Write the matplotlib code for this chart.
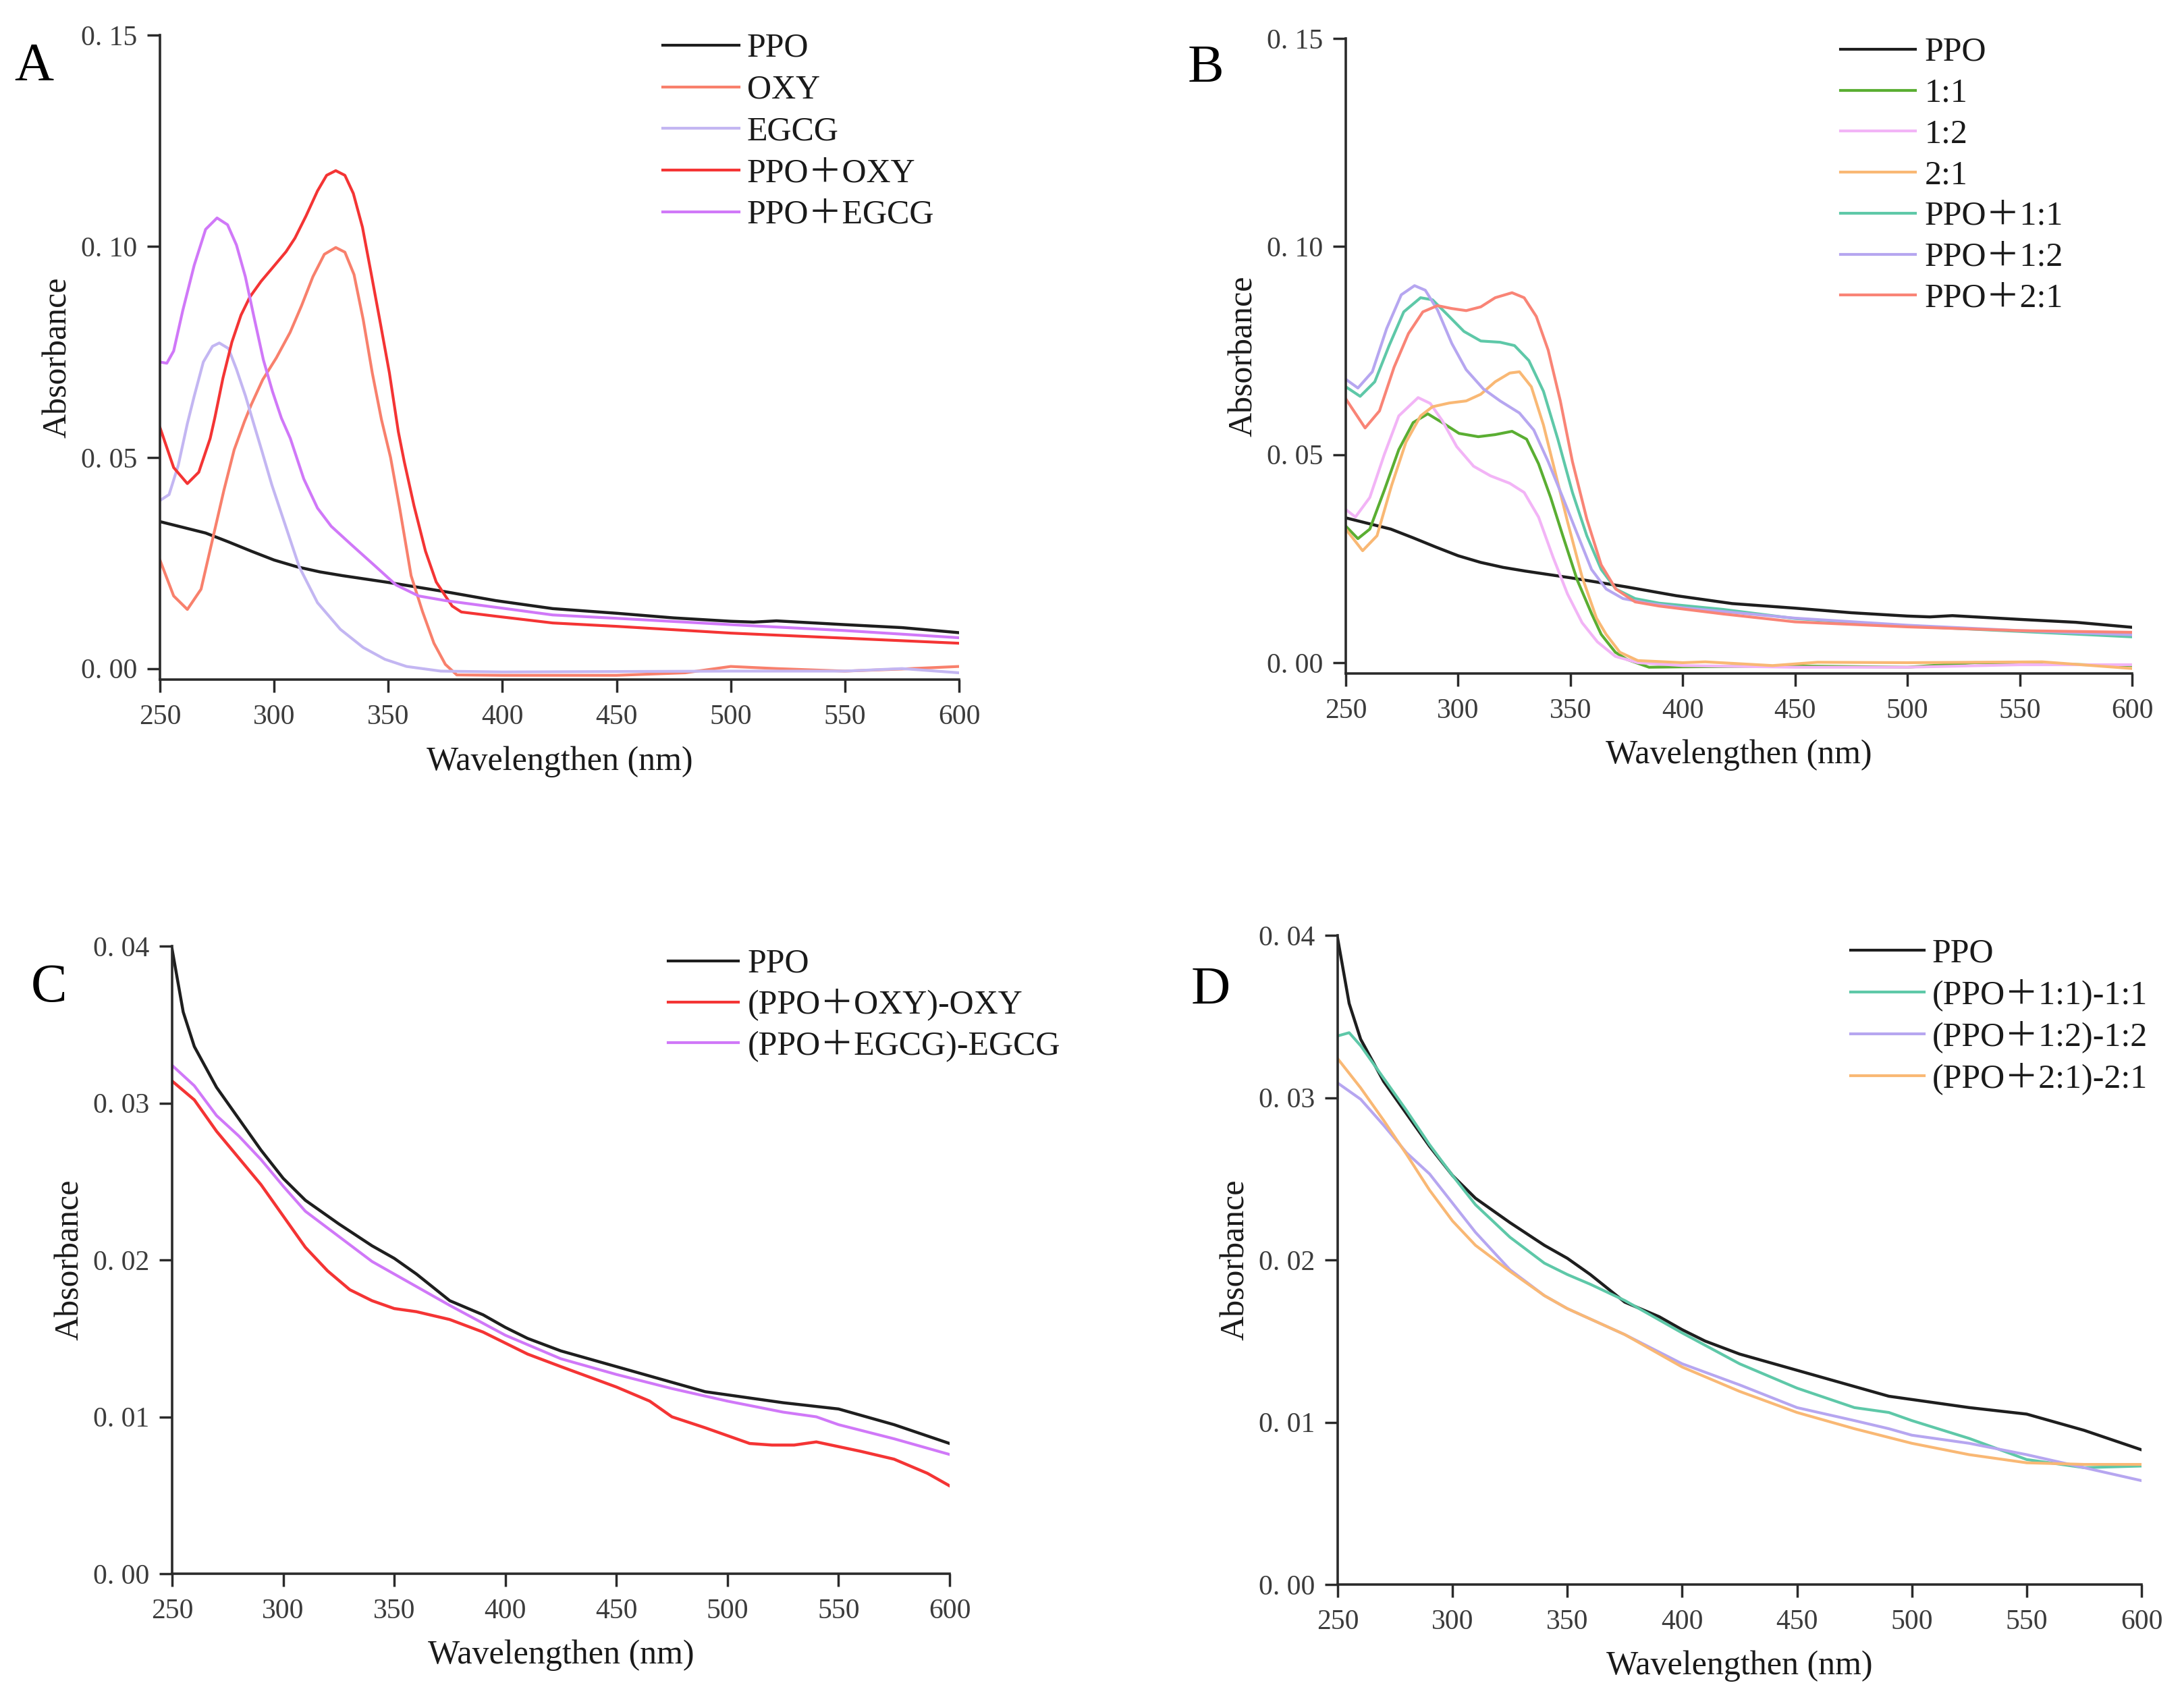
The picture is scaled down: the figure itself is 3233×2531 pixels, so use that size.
import numpy as np
import matplotlib
matplotlib.use("Agg")
import matplotlib.pyplot as plt
from matplotlib.lines import Line2D

plt.rcParams['font.family'] = ['Liberation Serif', 'Noto Sans CJK SC']

# ---------------- data ----------------
# PPO on the wide scale (panels A, B)
ppo_wl = [250, 270, 280, 290, 300, 310, 320, 330, 350, 375, 397, 422, 450, 475, 500, 510, 520,
          550, 575, 600]
ppo_ab = [0.0348, 0.0321, 0.030, 0.0278, 0.0257, 0.0241, 0.0229, 0.022, 0.0204, 0.0182, 0.0161,
          0.0142, 0.0131, 0.012, 0.0112, 0.011, 0.0113, 0.0104, 0.0097, 0.0085]

# panel A
oxy_wl = [250, 256, 262, 268, 273, 278, 282.5, 287, 290, 295, 301, 307, 312, 317, 322, 327, 331,
          335, 339, 343, 347, 351, 355, 360, 365, 370, 375, 380, 400, 450, 480, 500, 520, 550, 575, 600]
oxy = [0.0257, 0.0172, 0.014, 0.0188, 0.0305, 0.0422, 0.0518, 0.0585, 0.0625, 0.0684, 0.0736,
       0.0796, 0.0859, 0.0928, 0.0981, 0.0997, 0.0986, 0.0933, 0.0827, 0.070, 0.059, 0.050, 0.038,
       0.022, 0.0135, 0.006, 0.001, -0.0015, -0.0016, -0.0016, -0.001, 0.0005, 0.0, -0.0006,
       -0.0001, 0.0005]

egcg_wl = [250, 254, 258, 262, 265, 269, 273, 276, 280, 283.5, 287.5, 291.5, 294.5, 299, 305, 311,
           319, 329, 339, 348.5, 358, 373, 400, 450, 500, 550, 575, 600]
egcg = [0.0398, 0.0412, 0.0481, 0.058, 0.0645, 0.0726, 0.0763, 0.0771, 0.0758, 0.0709, 0.0645,
        0.0572, 0.0518, 0.0435, 0.0338, 0.0241, 0.0156, 0.0093, 0.005, 0.0022, 0.0005, -0.0006,
        -0.0008, -0.0007, -0.0006, -0.0006, 0.0, -0.001]

ppo_oxy_wl = [250, 256, 262, 267, 272, 274, 277.6, 281.5, 285.5, 289.4, 294.3, 299.3, 305.2, 309.1,
              314, 319, 323, 327, 331, 334.7, 338.7, 342.6, 346.6, 350.5, 354.4, 357, 361.3, 366.3,
              371, 375, 378, 382, 397, 422, 450, 500, 550, 600]
ppo_oxy = [0.0571, 0.0476, 0.0438, 0.0465, 0.0545, 0.0593, 0.0688, 0.0773, 0.0837, 0.088, 0.0917,
           0.0949, 0.0987, 0.1019, 0.1072, 0.1131, 0.1168, 0.1179, 0.1168, 0.1125, 0.1045, 0.0933,
           0.0816, 0.070, 0.0561, 0.049, 0.0385, 0.0278, 0.0205, 0.0172, 0.0148, 0.0134, 0.0124,
           0.0108, 0.010, 0.0084, 0.0072, 0.006]

ppo_egcg_wl = [250, 253, 256, 260, 265, 270, 275, 279.6, 283.5, 287.4, 291.4, 295.3, 299.3, 303.2,
               307.1, 313, 319, 325, 333.7, 343.6, 353.4, 363.3, 375, 400, 422, 450, 500, 550, 600]
ppo_egcg = [0.0726, 0.0723, 0.0752, 0.0848, 0.0955, 0.104, 0.1067, 0.1051, 0.1003, 0.0928, 0.0827,
            0.0731, 0.0656, 0.0593, 0.0545, 0.0449, 0.038, 0.0337, 0.0294, 0.0246, 0.0198, 0.0172,
            0.0161, 0.0143, 0.0127, 0.0119, 0.0104, 0.009, 0.0073]

# panel B
r11_wl = [250, 255.4, 260.7, 267.2, 273.6, 280, 286.5, 292.9, 300.4, 309, 316.5, 324, 330.5, 335.8,
          341.2, 346.6, 353, 359.4, 363.7, 370, 375, 385, 400, 450, 500, 530, 600]
r11 = [0.0328, 0.0298, 0.0321, 0.0415, 0.0512, 0.0577, 0.0598, 0.0577, 0.0551, 0.0543, 0.0548,
       0.0556, 0.0537, 0.0478, 0.0397, 0.0305, 0.0199, 0.0118, 0.0068, 0.0025, 0.0008, -0.0011,
       -0.001, -0.0008, -0.0011, 0.0, -0.0007]

r12_wl = [250, 254.3, 260.7, 267.2, 273.6, 282.2, 287.6, 292.9, 299.4, 306.9, 314.4, 323, 329.4,
          335.8, 342.3, 348.7, 355.2, 362, 370, 380, 400, 450, 500, 550, 600]
r12 = [0.0368, 0.035, 0.0397, 0.0501, 0.0593, 0.0637, 0.0623, 0.0582, 0.0519, 0.0472, 0.0449,
       0.0431, 0.0409, 0.035, 0.0253, 0.0165, 0.0096, 0.005, 0.0015, 0.0, -0.0007, -0.0011,
       -0.0011, -0.0005, -0.0005]

r21_wl = [250, 257.5, 263.9, 270.4, 276.8, 283.3, 288.6, 296.1, 303.6, 310.1, 316.5, 323, 327.3,
          332.6, 338, 343.3, 348.7, 355.2, 361.6, 365.9, 372, 380, 400, 410, 440, 460, 500, 560, 600]
r21 = [0.0321, 0.0269, 0.0305, 0.0426, 0.053, 0.0593, 0.0615, 0.0624, 0.0629, 0.0645, 0.0675,
       0.0696, 0.0699, 0.0663, 0.0571, 0.0456, 0.0339, 0.0206, 0.0107, 0.0068, 0.0025, 0.0005,
       0.0, 0.0002, -0.0007, 0.0001, 0.0, 0.0002, -0.0014]

p11_wl = [250, 256.4, 262.9, 269.3, 275.8, 283.3, 288.6, 295.1, 302.6, 310.1, 318.7, 325.1, 331.5,
          338, 344.4, 350.9, 357.3, 363.7, 370.2, 378.8, 389.5, 418, 450, 500, 550, 600]
p11 = [0.0663, 0.064, 0.0675, 0.0762, 0.0843, 0.0877, 0.0872, 0.0837, 0.0796, 0.0773, 0.077,
       0.0762, 0.0726, 0.0652, 0.0537, 0.0409, 0.0305, 0.0224, 0.0177, 0.0154, 0.0143, 0.0128,
       0.0106, 0.0088, 0.0075, 0.0062]

p12_wl = [250, 255.4, 261.8, 268.2, 274.7, 280.6, 285.4, 290.8, 297.2, 303.6, 311.2, 318.7, 327.3,
          333.7, 340.1, 346.6, 353, 359.4, 365.9, 373.4, 384.1, 400, 450, 500, 550, 600]
p12 = [0.0681, 0.066, 0.0699, 0.0803, 0.0884, 0.0906, 0.0895, 0.0848, 0.0767, 0.0704, 0.0658,
       0.0629, 0.060, 0.0559, 0.0483, 0.0397, 0.031, 0.0224, 0.0177, 0.0154, 0.0143, 0.0132,
       0.0107, 0.009, 0.0077, 0.0067]

p21_wl = [250, 258.6, 265, 271.5, 277.9, 284.3, 290.8, 297.2, 303.6, 310.1, 316.5, 324, 329.4,
          334.8, 340.1, 345.5, 350.9, 357.3, 363.7, 370.2, 378.8, 389.5, 418, 450, 500, 550, 600]
p21 = [0.0634, 0.0564, 0.0605, 0.071, 0.0791, 0.0843, 0.0858, 0.0851, 0.0846, 0.0855, 0.0877,
       0.0889, 0.0877, 0.0832, 0.0751, 0.0629, 0.0483, 0.0345, 0.0235, 0.0177, 0.0146, 0.0136,
       0.0117, 0.0098, 0.0086, 0.0077, 0.0073]

# PPO on the narrow scale (panels C, D)
ppo2_wl = [250, 255, 260, 270, 280, 290, 300, 310, 325, 340, 350, 360, 375, 390, 400, 410, 425,
           450, 475, 490, 500, 525, 550, 575, 600]
ppo2 = [0.0398, 0.0358, 0.0336, 0.031, 0.029, 0.027, 0.0252, 0.0238, 0.0223, 0.0209, 0.0201,
        0.0191, 0.0174, 0.0165, 0.0157, 0.015, 0.0142, 0.0132, 0.0122, 0.0116, 0.0114, 0.0109,
        0.0105, 0.0095, 0.0083]

# panel C
d_oxy_wl = [250, 260, 270, 280, 290, 300, 310, 320, 330, 340, 350, 360, 375, 390, 400, 410, 425,
            450, 465, 475, 490, 500, 510, 520, 530, 540, 550, 560, 575, 590, 600]
d_oxy = [0.0314, 0.0302, 0.0282, 0.0265, 0.0248, 0.0228, 0.0208, 0.0193, 0.0181, 0.0174, 0.0169,
         0.0167, 0.0162, 0.0154, 0.0147, 0.014, 0.0132, 0.0119, 0.011, 0.0100, 0.0093, 0.0088,
         0.0083, 0.0082, 0.0082, 0.0084, 0.0081, 0.0078, 0.0073, 0.0064, 0.0056]

d_egcg_wl = [250, 260, 270, 280, 290, 300, 310, 325, 340, 350, 375, 400, 425, 450, 475, 500, 525,
             540, 550, 575, 600]
d_egcg = [0.0324, 0.0311, 0.0292, 0.0279, 0.0264, 0.0247, 0.0231, 0.0215, 0.0199, 0.0191, 0.0171,
          0.0152, 0.0137, 0.0127, 0.0118, 0.0110, 0.0103, 0.0100, 0.0095, 0.0086, 0.0076]

# panel D
d11_wl = [250, 255, 260, 270, 280, 290, 300, 310, 325, 340, 350, 360, 375, 400, 425, 450, 475,
          490, 500, 525, 550, 575, 600]
d11 = [0.0338, 0.034, 0.0332, 0.0312, 0.0292, 0.0271, 0.0252, 0.0234, 0.0214, 0.0198, 0.0191,
       0.0185, 0.0175, 0.0155, 0.0136, 0.0121, 0.0109, 0.0106, 0.0101, 0.009, 0.0077, 0.0072, 0.0073]

d12_wl = [250, 260, 270, 280, 290, 300, 310, 325, 340, 350, 375, 400, 425, 450, 475, 490, 500,
          525, 550, 575, 600]
d12 = [0.0309, 0.0299, 0.0283, 0.0266, 0.0253, 0.0235, 0.0217, 0.0194, 0.0178, 0.017, 0.0154,
       0.0136, 0.0123, 0.0109, 0.0101, 0.0096, 0.0092, 0.0087, 0.008, 0.0072, 0.0064]

d21_wl = [250, 260, 270, 280, 290, 300, 310, 325, 340, 350, 375, 400, 425, 450, 475, 500, 525,
          550, 575, 600]
d21 = [0.0324, 0.0306, 0.0286, 0.0265, 0.0243, 0.0224, 0.0209, 0.0193, 0.0178, 0.017, 0.0154,
       0.0134, 0.0119, 0.0106, 0.0096, 0.0087, 0.008, 0.0075, 0.0074, 0.0074]

x_ticks = [250, 300, 350, 400, 450, 500, 550, 600]
y_ticks_ab = [0.0, 0.05, 0.10, 0.15]
y_labels_ab = ['0. 00', '0. 05', '0. 10', '0. 15']
y_ticks_cd = [0.0, 0.01, 0.02, 0.03, 0.04]
y_labels_cd = ['0. 00', '0. 01', '0. 02', '0. 03', '0. 04']

# colours
c_ppo = '#1e1e1e'
c_oxy = '#f8806c'
c_egcg = '#c3b6f2'
c_ppo_oxy = '#f43434'
c_ppo_egcg = '#d078f8'
c_green = '#5aae32'
c_pink = '#f2b4f6'
c_orange = '#f9b874'
c_teal = '#5ec8a8'
c_lav = '#b6a6f0'
c_salmon = '#f98476'

# ---------------- figure ----------------
W, H = 3233, 2531
fig = plt.figure(figsize=(W / 100, H / 100), dpi=100)


def make_ax(left, right, top, bottom):
    return fig.add_axes([left / W, 1 - bottom / H, (right - left) / W, (bottom - top) / H])


def style(ax, ylim, yticks, ylabels, w_px, h_px):
    ax.set_xlim(250, 600)
    ax.set_ylim(*ylim)
    for s in ['top', 'right']:
        ax.spines[s].set_visible(False)
    for s in ['left', 'bottom']:
        ax.spines[s].set_linewidth(2.6)
        ax.spines[s].set_color('#2a2a2a')
    ax.set_xticks(x_ticks)
    ax.set_xticklabels([str(t) for t in x_ticks])
    ax.set_yticks(yticks)
    ax.set_yticklabels(ylabels)
    ax.tick_params(axis='both', direction='out', length=13.5, width=2.5, color='#2a2a2a',
                   labelsize=30, labelcolor='#3c3c3c')
    ax.tick_params(axis='x', pad=13)
    ax.tick_params(axis='y', pad=11)
    ax.set_xlabel('Wavelengthen (nm)', fontsize=36, color='#1a1a1a')
    ax.set_ylabel('Absorbance', fontsize=36, color='#1a1a1a')
    ax.xaxis.set_label_coords(0.5, -98 / h_px)
    ax.yaxis.set_label_coords(-128 / w_px, 0.5)


def legend(entries, x0, y0, hlen, tx, dy):
    for i, (lab, col) in enumerate(entries):
        y = y0 + i * dy
        fig.add_artist(Line2D([x0 / W, (x0 + hlen) / W], [1 - y / H, 1 - y / H],
                              color=col, lw=3.0, transform=fig.transFigure))
        fig.text(tx / W, 1 - (y + 17) / H, lab, fontsize=36, va='baseline', ha='left',
                 color='#1a1a1a')


lw = 3.0
lwk = 3.2

# A
axA = make_ax(237, 1421, 52, 1007)
axA.plot(ppo_wl, ppo_ab, color=c_ppo, lw=lwk)
axA.plot(oxy_wl, oxy, color=c_oxy, lw=lw)
axA.plot(egcg_wl, egcg, color=c_egcg, lw=lw)
axA.plot(ppo_oxy_wl, ppo_oxy, color=c_ppo_oxy, lw=lw)
axA.plot(ppo_egcg_wl, ppo_egcg, color=c_ppo_egcg, lw=lw)
style(axA, (-0.0026, 0.15), y_ticks_ab, y_labels_ab, 1421 - 237, 1007 - 52)
legend([('PPO', c_ppo), ('OXY', c_oxy), ('EGCG', c_egcg),
        ('PPO＋OXY', c_ppo_oxy), ('PPO＋EGCG', c_ppo_egcg)], 982, 67, 113, 1107, 61.7)
fig.text(21 / W, 1 - 119 / H, 'A', fontsize=58, va='baseline')

# B
axB = make_ax(1994, 3159, 57, 998)
axB.plot(ppo_wl, ppo_ab, color=c_ppo, lw=lwk)
axB.plot(r11_wl, r11, color=c_green, lw=lw)
axB.plot(r12_wl, r12, color=c_pink, lw=lw)
axB.plot(r21_wl, r21, color=c_orange, lw=lw)
axB.plot(p11_wl, p11, color=c_teal, lw=lw)
axB.plot(p12_wl, p12, color=c_lav, lw=lw)
axB.plot(p21_wl, p21, color=c_salmon, lw=lw)
style(axB, (-0.0026, 0.15), y_ticks_ab, y_labels_ab, 3159 - 1994, 998 - 57)
legend([('PPO', c_ppo), ('1:1', c_green), ('1:2', c_pink), ('2:1', c_orange),
        ('PPO＋1:1', c_teal), ('PPO＋1:2', c_lav), ('PPO＋2:1', c_salmon)],
       2727, 73, 111, 2852, 60.7)
fig.text(1760 / W, 1 - 122 / H, 'B', fontsize=58, va='baseline')

# C
axC = make_ax(255, 1407, 1402, 2332)
axC.plot(ppo2_wl, ppo2, color=c_ppo, lw=lwk)
axC.plot(d_oxy_wl, d_oxy, color=c_ppo_oxy, lw=lwk)
axC.plot(d_egcg_wl, d_egcg, color=c_ppo_egcg, lw=lw)
style(axC, (0, 0.04), y_ticks_cd, y_labels_cd, 1407 - 255, 2332 - 1402)
legend([('PPO', c_ppo), ('(PPO＋OXY)-OXY', c_ppo_oxy), ('(PPO＋EGCG)-EGCG', c_ppo_egcg)],
       990, 1424, 104, 1108, 60.5)
fig.text(46 / W, 1 - 1484 / H, 'C', fontsize=58, va='baseline')

# D
axD = make_ax(1982, 3173, 1386, 2348)
axD.plot(ppo2_wl, ppo2, color=c_ppo, lw=lwk)
axD.plot(d11_wl, d11, color=c_teal, lw=lw)
axD.plot(d12_wl, d12, color=c_lav, lw=lw)
axD.plot(d21_wl, d21, color=c_orange, lw=lw)
style(axD, (0, 0.04), y_ticks_cd, y_labels_cd, 3173 - 1982, 2348 - 1386)
legend([('PPO', c_ppo), ('(PPO＋1:1)-1:1', c_teal), ('(PPO＋1:2)-1:2', c_lav),
        ('(PPO＋2:1)-2:1', c_orange)], 2742, 1408, 109, 2863, 62)
fig.text(1765 / W, 1 - 1488 / H, 'D', fontsize=58, va='baseline')

fig.savefig('out.png', dpi=100, facecolor='white')
